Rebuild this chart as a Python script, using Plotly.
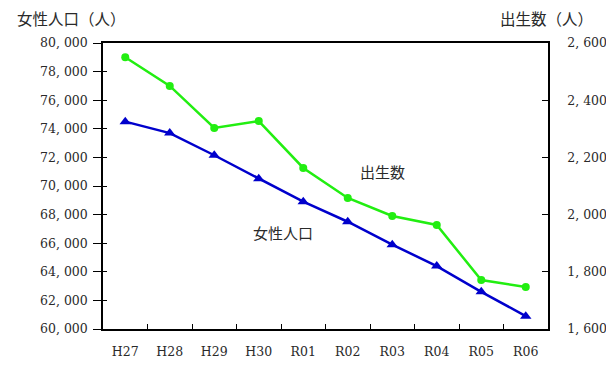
import plotly.graph_objects as go

categories = ["H27", "H28", "H29", "H30", "R01", "R02", "R03", "R04", "R05", "R06"]
female_pop = [74500, 73700, 72150, 70500, 68900, 67500, 65900, 64400, 62600, 60900]
births = [2550, 2450, 2303, 2327, 2163, 2058, 1995, 1964, 1771, 1747]

left_ticks = list(range(60000, 80001, 2000))
right_ticks = list(range(1600, 2601, 200))
left_text = [f"{v:,}".replace(",", ", ") for v in left_ticks]
right_text = [f"{v:,}".replace(",", ", ") for v in right_ticks]

num_font = dict(family="DejaVu Serif, Liberation Serif", size=12.5, color="#2a2a2a")
jp_font = dict(family="Noto Sans CJK JP", size=15.5, color="#2a2a2a")
lbl_font = dict(family="Noto Sans CJK JP", size=15, color="#2a2a2a")

fig = go.Figure()
fig.add_trace(go.Scatter(
    x=categories, y=female_pop, mode="lines+markers", yaxis="y",
    line=dict(color="#0000cc", width=2.5),
    marker=dict(symbol="triangle-up", size=10, color="#0000cc"),
    showlegend=False, cliponaxis=False))
fig.add_trace(go.Scatter(
    x=categories, y=births, mode="lines+markers", yaxis="y2",
    line=dict(color="#22ee11", width=2.5),
    marker=dict(symbol="circle", size=8, color="#22ee11"),
    showlegend=False, cliponaxis=False))
# helper trace so the inner-tick overlay axis is drawn
fig.add_trace(go.Scatter(x=[categories[0]], y=[None], yaxis="y3",
                         showlegend=False, hoverinfo="skip"))

fig.update_layout(
    width=614, height=371,
    margin=dict(l=95, r=74, t=35, b=50),
    paper_bgcolor="white", plot_bgcolor="white",
    xaxis=dict(
        type="category", range=[-0.5, 9.5],
        showline=True, linecolor="black", linewidth=1.5, mirror=True,
        ticks="inside", ticklen=5, tickcolor="black", tickson="boundaries",
        showgrid=False, tickfont=num_font, ticklabelstandoff=10,
    ),
    yaxis=dict(
        range=[60000, 80000], tickvals=left_ticks, ticktext=left_text,
        showline=True, linecolor="black", linewidth=1.5,
        ticks="outside", ticklen=8, tickcolor="black",
        showgrid=False, zeroline=False, tickfont=num_font, ticklabelstandoff=3,
    ),
    yaxis3=dict(
        range=[60000, 80000], tickvals=left_ticks, overlaying="y",
        side="left", showticklabels=False,
        ticks="inside", ticklen=4, tickcolor="black",
        showgrid=False, zeroline=False, showline=False,
    ),
    yaxis2=dict(
        range=[1600, 2600], tickvals=right_ticks, ticktext=right_text,
        overlaying="y", side="right",
        showline=True, linecolor="black", linewidth=1.5,
        ticks="inside", ticklen=6, tickcolor="black",
        showgrid=False, zeroline=False, tickfont=num_font, ticklabelstandoff=15,
    ),
    annotations=[
        dict(text="女性人口（人）", xref="paper", yref="paper", x=-0.198, y=1.0,
             yshift=25, xanchor="left", yanchor="middle", showarrow=False, font=jp_font),
        dict(text="出生数（人）", xref="paper", yref="paper", x=1.106, y=1.0,
             yshift=25, xanchor="right", yanchor="middle", showarrow=False, font=jp_font),
        dict(text="出生数", x="R02", y=2149, xref="x", yref="y2", xshift=35,
             showarrow=False, font=lbl_font),
        dict(text="女性人口", x="R01", y=66783, xref="x", yref="y", xshift=-20,
             showarrow=False, font=lbl_font),
    ],
)

fig.write_html("out.html")
